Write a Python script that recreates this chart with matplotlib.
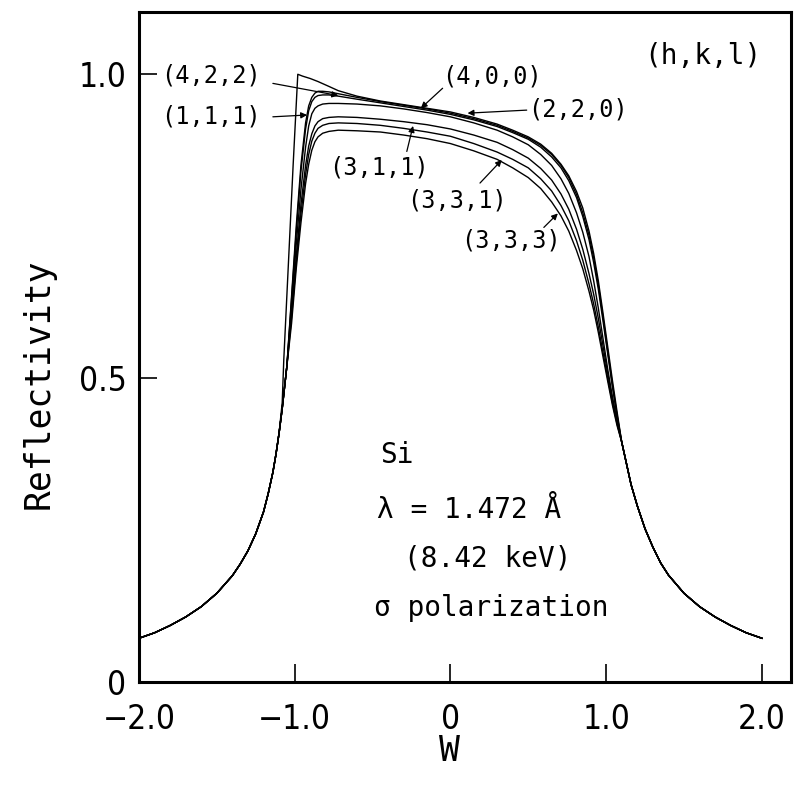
import matplotlib
matplotlib.use("Agg")
import matplotlib.pyplot as plt
import numpy as np

# shared tails of the Darwin curves (all reflections fall on the same line here)
tail_w_left = [-2.0, -1.9, -1.8, -1.7, -1.6, -1.5, -1.4, -1.35, -1.3, -1.25, -1.2, -1.17, -1.14, -1.12, -1.10]
tail_r_left = [0.072, 0.081, 0.093, 0.107, 0.124, 0.146, 0.175, 0.194, 0.216, 0.244, 0.28, 0.31, 0.345, 0.375, 0.41]
tail_w_right = [1.10, 1.13, 1.16, 1.2, 1.25, 1.3, 1.35, 1.4, 1.5, 1.6, 1.7, 1.8, 1.9, 2.0]
tail_r_right = [0.395, 0.36, 0.325, 0.29, 0.252, 0.222, 0.196, 0.176, 0.146, 0.124, 0.107, 0.093, 0.081, 0.072]

# central part of each curve
w_422 = [-1.08, -1.07, -1.04, -1.01, -0.98, -0.95, -0.9, -0.85, -0.78, -0.72, -0.6, -0.45, -0.3, -0.15,
         0.0, 0.15, 0.3, 0.4, 0.5, 0.58, 0.65, 0.71, 0.76, 0.81, 0.85, 0.89, 0.92, 0.95, 0.98, 1.01, 1.04, 1.07]
r_422 = [0.46, 0.53, 0.69, 0.85, 1.0, 0.997, 0.993, 0.988, 0.98, 0.973, 0.964, 0.956, 0.95, 0.944,
         0.938, 0.929, 0.918, 0.908, 0.897, 0.885, 0.87, 0.852, 0.833, 0.807, 0.78, 0.742, 0.705, 0.66, 0.607, 0.552, 0.497, 0.445]

w_mid = [-1.08, -1.05, -1.02, -0.99, -0.96, -0.93, -0.91, -0.89, -0.87, -0.85, -0.82, -0.78, -0.72, -0.6,
         -0.45, -0.3, -0.15, 0.0, 0.15, 0.3, 0.4, 0.5, 0.58, 0.65, 0.71, 0.76, 0.81, 0.85, 0.89, 0.92,
         0.95, 0.98, 1.01, 1.04, 1.07]
r_400 = [0.45, 0.52, 0.635, 0.75, 0.85, 0.92, 0.948, 0.962, 0.969, 0.972, 0.972, 0.971, 0.968, 0.962,
         0.955, 0.949, 0.943, 0.936, 0.927, 0.916, 0.906, 0.895, 0.883, 0.868, 0.85, 0.83, 0.802, 0.772, 0.735, 0.698,
         0.653, 0.6, 0.545, 0.49, 0.44]
r_220 = [0.45, 0.52, 0.63, 0.74, 0.84, 0.91, 0.94, 0.955, 0.962, 0.965, 0.966, 0.966, 0.964, 0.959,
         0.953, 0.947, 0.941, 0.934, 0.925, 0.914, 0.904, 0.893, 0.88, 0.864, 0.846, 0.825, 0.797, 0.766, 0.728, 0.69,
         0.646, 0.594, 0.54, 0.486, 0.437]
r_111 = [0.45, 0.52, 0.62, 0.72, 0.81, 0.88, 0.915, 0.935, 0.944, 0.948, 0.951, 0.952, 0.952, 0.951,
         0.948, 0.943, 0.937, 0.930, 0.92, 0.908, 0.897, 0.884, 0.868, 0.85, 0.828, 0.804, 0.772, 0.74, 0.70, 0.66,
         0.615, 0.565, 0.515, 0.47, 0.43]
r_311 = [0.45, 0.52, 0.61, 0.70, 0.785, 0.85, 0.882, 0.902, 0.915, 0.922, 0.927, 0.929, 0.93, 0.929,
         0.926, 0.922, 0.917, 0.91, 0.90, 0.888, 0.876, 0.862, 0.845, 0.826, 0.803, 0.778, 0.745, 0.712, 0.672, 0.638,
         0.598, 0.553, 0.508, 0.466, 0.428]
r_331 = [0.45, 0.52, 0.60, 0.69, 0.77, 0.835, 0.868, 0.89, 0.903, 0.911, 0.916, 0.919, 0.92, 0.919,
         0.916, 0.911, 0.905, 0.898, 0.886, 0.872, 0.86, 0.846, 0.828, 0.808, 0.784, 0.759, 0.726, 0.694, 0.655, 0.622,
         0.584, 0.542, 0.50, 0.46, 0.425]
r_333 = [0.45, 0.52, 0.59, 0.68, 0.755, 0.82, 0.852, 0.875, 0.889, 0.897, 0.903, 0.906, 0.908, 0.907,
         0.905, 0.90, 0.894, 0.886, 0.874, 0.86, 0.846, 0.83, 0.812, 0.79, 0.767, 0.742, 0.71, 0.68, 0.643, 0.612,
         0.575, 0.535, 0.495, 0.456, 0.422]

curves = [(w_422, r_422), (w_mid, r_400), (w_mid, r_220), (w_mid, r_111),
          (w_mid, r_311), (w_mid, r_331), (w_mid, r_333)]

# labels: text, text position, arrow tail, arrow tip
labels = ["(4,2,2)", "(1,1,1)", "(4,0,0)", "(2,2,0)", "(3,1,1)", "(3,3,1)", "(3,3,3)"]
label_xy = [(-1.86, 0.998), (-1.86, 0.93), (-0.05, 0.997), (0.50, 0.942),
            (-0.78, 0.847), (-0.28, 0.793), (0.07, 0.727)]
tail_xy = [(-1.14, 0.985), (-1.14, 0.93), (-0.05, 0.977), (0.49, 0.941),
           (-0.28, 0.873), (0.19, 0.821), (0.60, 0.748)]
tip_xy = [(-0.72, 0.965), (-0.92, 0.933), (-0.19, 0.944), (0.11, 0.936),
          (-0.24, 0.915), (0.33, 0.859), (0.69, 0.771)]

xticks = [-2.0, -1.0, 0.0, 1.0, 2.0]
xtick_labels = ["\u22122.0", "\u22121.0", "0", "1.0", "2.0"]
yticks = [0.0, 0.5, 1.0]
ytick_labels = ["0", "0.5", "1.0"]

mono = "DejaVu Sans Mono"

fig = plt.figure(figsize=(7.94, 7.87), dpi=100)
ax = fig.add_axes([0.175, 0.1334, 0.821, 0.851])

for w, r in curves:
    x = np.concatenate([tail_w_left, w, tail_w_right])
    y = np.concatenate([tail_r_left, r, tail_r_right])
    ax.plot(x, y, color="k", lw=1.0)

ax.set_xlim(-2.0, 2.186)
ax.set_ylim(0, 1.102)

for s in ax.spines.values():
    s.set_linewidth(2.2)

ax.set_xticks(xticks)
ax.set_xticklabels(xtick_labels, family="DejaVu Sans", stretch="condensed", fontsize=24)
ax.set_yticks(yticks)
ax.set_yticklabels(ytick_labels, family="DejaVu Sans", stretch="condensed", fontsize=24)
ax.tick_params(axis="x", direction="in", length=13, width=1.2, pad=15)
ax.tick_params(axis="y", direction="in", length=13, width=1.2, pad=9)

ax.set_xlabel("W", family=mono, fontsize=25)
ax.xaxis.set_label_coords(0.477, -0.078)
ax.set_ylabel("Reflectivity", family=mono, fontsize=25)
ax.yaxis.set_label_coords(-0.128, 0.446)

for text, pos, t0, t1 in zip(labels, label_xy, tail_xy, tip_xy):
    ax.text(pos[0], pos[1], text, family=mono, fontsize=17, ha="left", va="center")
    ax.annotate("", xy=t1, xytext=t0,
                arrowprops=dict(arrowstyle="-|>", lw=0.9, color="k",
                                mutation_scale=9, shrinkA=0, shrinkB=0))

ax.text(1.62, 1.03, "(h,k,l)", family=mono, fontsize=20, ha="center", va="center")

ax.text(-0.45, 0.373, "Si", family=mono, fontsize=20, va="center")
ax.text(-0.47, 0.283, "\u03bb = 1.472 \u00c5", family=mono, fontsize=20, va="center")
ax.text(-0.30, 0.204, "(8.42 keV)", family=mono, fontsize=20, va="center")
ax.text(-0.49, 0.122, "\u03c3 polarization", family=mono, fontsize=20, va="center")

fig.savefig("out.png", dpi=100)
